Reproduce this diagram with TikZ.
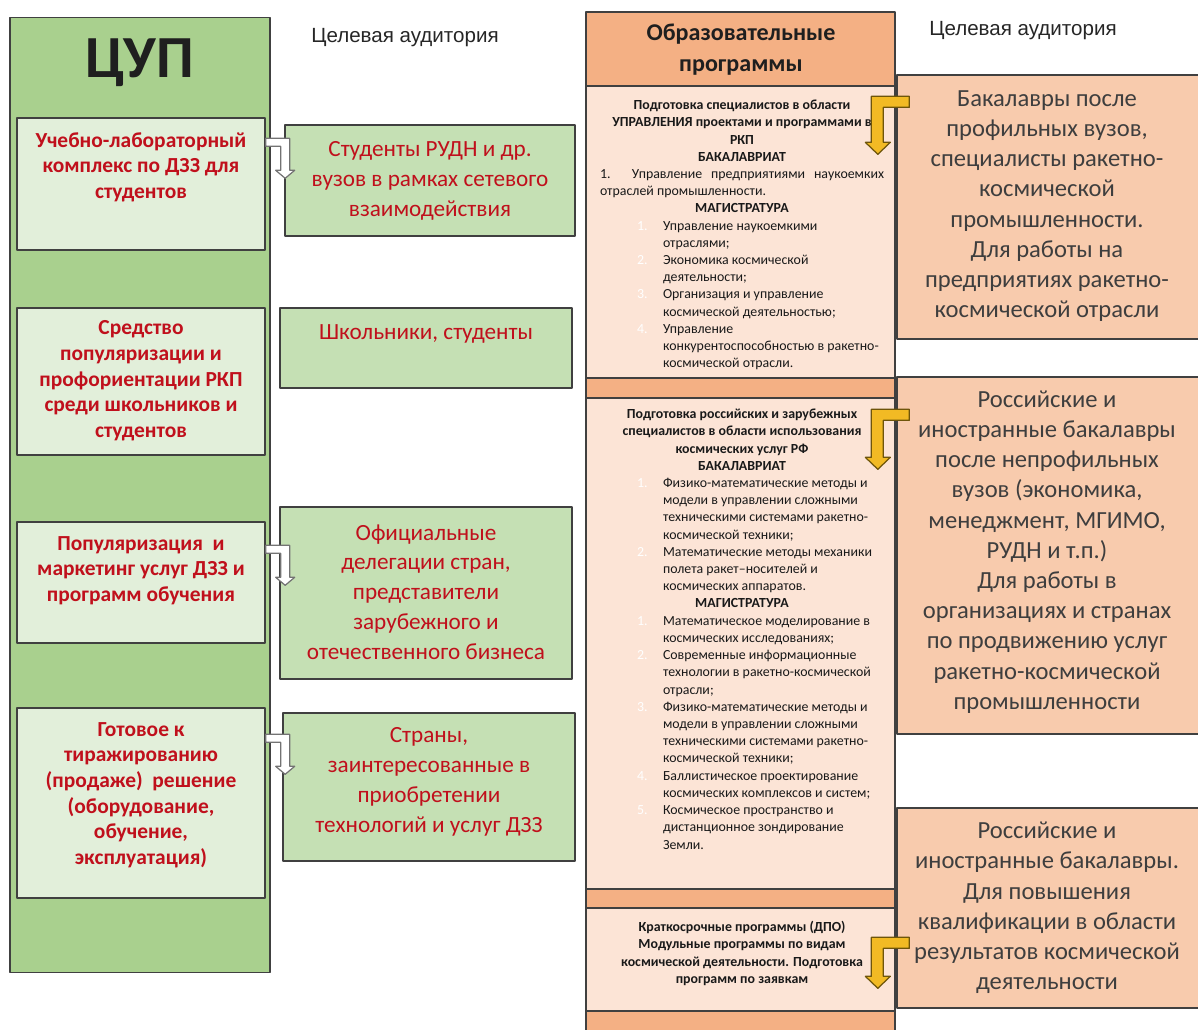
\documentclass[tikz,border=0pt]{standalone}
\usepackage{fontspec}
\setmainfont{Carlito}
\newfontfamily\arialfont{Liberation Sans}
\usetikzlibrary{calc}

% one pixel of the page
\newdimen\pxu \pxu=0.569055pt

\definecolor{cupgreen}{RGB}{169,208,142}
\definecolor{palegreen}{RGB}{226,239,218}
\definecolor{midgreen}{RGB}{197,224,180}
\definecolor{redtext}{RGB}{192,16,28}
\definecolor{orangehead}{RGB}{244,176,132}
\definecolor{peach}{RGB}{252,228,214}
\definecolor{salmon}{RGB}{248,203,173}
\definecolor{edgegray}{RGB}{64,64,64}
\definecolor{darktext}{RGB}{62,62,62}
\definecolor{goldfill}{RGB}{242,186,36}
\definecolor{goldedge}{RGB}{110,85,10}

% program texts
\newcommand{\phead}[1]{\par{\centering\bfseries #1\par}}
\newcommand{\pitem}[2]{\par{\raggedright\leftskip=63\pxu\noindent\llap{\makebox[26\pxu][l]{\color{white}#1}}#2\par}}

% bent block arrows
\newcommand{\bentwhite}[1]{%
  \draw[whitearrow] #1 -- ++(24,0) -- ++(0,32) -- ++(5,0) -- ++(-9.5,8) -- ++(-9.5,-8) -- ++(5,0) -- ++(0,-24) -- ++(-15,0) -- cycle;}
\newcommand{\bentgold}[2]{%
  \draw[goldarrow] #1 -- ++(-38,0) -- ++(0,#2) -- ++(-6,0) -- ++(12.5,12) -- ++(12.5,-12) -- ++(-7,0) -- ++(0,{11-#2}) -- ++(26,0) -- cycle;}

\begin{document}
\begin{tikzpicture}[x=0.02cm, y=-0.02cm, line join=round,
  frame/.style={draw=edgegray, line width=0.8pt, inner sep=0pt},
  cupbox/.style={frame, fill=cupgreen, minimum width=260\pxu, minimum height=955\pxu},
  labbox/.style={frame, fill=palegreen, minimum width=248\pxu},
  audbox/.style={frame, fill=midgreen},
  progcell/.style={frame, minimum width=309\pxu},
  targbox/.style={frame, fill=salmon, minimum width=308\pxu},
  labtext/.style={text=redtext, align=center, inner sep=0pt, font=\bfseries\fontsize{12.2}{14.6}\selectfont},
  audtext/.style={text=redtext, align=center, inner sep=0pt, font=\fontsize{13.2}{17}\selectfont},
  targtext/.style={text=darktext, align=center, inner sep=0pt, font=\fontsize{14}{17.2}\selectfont},
  progtext/.style={text=black!90, text width=284\pxu, align=justify, anchor=north, inner sep=0pt,
    font=\fontsize{7.9}{9.8}\selectfont, execute at begin node=\setlength{\parskip}{0pt}},
  colhead/.style={text=black!85, inner sep=0pt, font=\arialfont\fontsize{11.7}{14}\selectfont},
  whitearrow/.style={fill=white, draw=black!55, line width=0.7pt},
  goldarrow/.style={fill=goldfill, draw=goldedge, line width=0.7pt}]
\useasboundingbox (0,0) rectangle (1198,1030);
\fill[white] (0,0) rectangle (1198,1030);

% Left column: ЦУП
\node[cupbox] (cup) at (140,495) {};
\node[text=black!88, inner sep=0pt, font=\bfseries\fontsize{34}{40}\selectfont] (cuptxt) at (140,63) {ЦУП};
\node[labbox, minimum height=132\pxu] (b1) at (141,184) {};
\node[labbox, minimum height=147\pxu] (b2) at (141,381.5) {};
\node[labbox, minimum height=121\pxu] (b3) at (141,582.5) {};
\node[labbox, minimum height=190\pxu] (b4) at (141,803) {};
\node[labtext] (b1txt) at (141,167) {Учебно-лабораторный\\комплекс по ДЗЗ для\\студентов};
\node[labtext] (b2txt) at (141,381) {Средство\\популяризации и\\профориентации РКП\\среди школьников и\\студентов};
\node[labtext] (b3txt) at (141,570.5) {Популяризация~ и\\маркетинг услуг ДЗЗ и\\программ обучения};
\node[labtext] (b4txt) at (141,795) {Готовое к\\тиражированию\\(продаже)~ решение\\(оборудование,\\обучение,\\эксплуатация)};

% Target audience of ЦУП
\node[colhead] (aud1) at (405,38) {Целевая аудитория};
\node[audbox, minimum width=290\pxu, minimum height=111\pxu] (t1) at (430,180.5) {};
\node[audbox, minimum width=292\pxu, minimum height=80\pxu] (t2) at (426,348) {};
\node[audbox, minimum width=292\pxu, minimum height=172\pxu] (t3) at (426,593) {};
\node[audbox, minimum width=292\pxu, minimum height=148\pxu] (t4) at (429,787) {};
\node[audtext] (t1txt) at (430,181) {Студенты РУДН и др.\\вузов в рамках сетевого\\взаимодействия};
\node[audtext] (t2txt) at (426,334) {Школьники, студенты};
\node[audtext] (t3txt) at (426,592) {Официальные\\делегации стран,\\представители\\зарубежного и\\отечественного бизнеса};
\node[audtext] (t4txt) at (429,782) {Страны,\\заинтересованные в\\приобретении\\технологий и услуг ДЗЗ};

\bentwhite{($(b1.north east)+(0,21)$)}
\bentwhite{($(b3.north east)+(0,24)$)}
\bentwhite{($(b4.north east)+(0,27)$)}

% Educational programs column
\node[progcell, fill=orangehead, minimum height=74\pxu] (phead) at (740.5,49) {};
\node[progcell, fill=peach, minimum height=292\pxu] (p1) at (740.5,232) {};
\node[progcell, fill=orangehead, minimum height=20\pxu] (band1) at (740.5,388) {};
\node[progcell, fill=peach, minimum height=491\pxu] (p2) at (740.5,643.5) {};
\node[progcell, fill=orangehead, minimum height=19\pxu] (band2) at (740.5,898.5) {};
\node[progcell, fill=peach, minimum height=103\pxu] (p3) at (740.5,959.5) {};
\node[progcell, fill=orangehead, minimum height=30\pxu] (band3) at (740.5,1026) {};
\node[text=black!88, align=center, inner sep=0pt, font=\bfseries\fontsize{13.7}{17.6}\selectfont] (pheadtxt) at (741,50) {Образовательные\\программы};

\node[progtext] (p1txt) at (742,92) {%
\phead{Подготовка специалистов в области\\УПРАВЛЕНИЯ проектами и программами в\\РКП\\БАКАЛАВРИАТ}
{\noindent 1. Управление предприятиями наукоемких\linebreak отраслей промышленности.\par}
\phead{МАГИСТРАТУРА}
\pitem{1.}{Управление наукоемкими\\отраслями;}
\pitem{2.}{Экономика космической\\деятельности;}
\pitem{3.}{Организация и управление\\космической деятельностью;}
\pitem{4.}{Управление\\конкурентоспособностью в ракетно-\\космической отрасли.}};

\node[progtext] (p2txt) at (742,401) {%
\phead{Подготовка российских и зарубежных\\специалистов в области использования\\космических услуг РФ\\БАКАЛАВРИАТ}
\pitem{1.}{Физико-математические методы и\\модели в управлении сложными\\техническими системами ракетно-\\космической техники;}
\pitem{2.}{Математические методы механики\\полета ракет--носителей и\\космических аппаратов.}
\phead{МАГИСТРАТУРА}
\pitem{1.}{Математическое моделирование в\\космических исследованиях;}
\pitem{2.}{Современные информационные\\технологии в ракетно-космической\\отрасли;}
\pitem{3.}{Физико-математические методы и\\модели в управлении сложными\\техническими системами ракетно-\\космической техники;}
\pitem{4.}{Баллистическое проектирование\\космических комплексов и систем;}
\pitem{5.}{Космическое пространство и\\дистанционное зондирование\\Земли.}};

\node[progtext] (p3txt) at (742,914) {%
\phead{Краткосрочные программы (ДПО)\\Модульные программы по видам\\космической деятельности. Подготовка\\программ по заявкам}};

% Target audience of the programs
\node[colhead] (aud2) at (1023,31) {Целевая аудитория};
\node[targbox, minimum height=264\pxu] (r1) at (1051,207) {};
\node[targbox, minimum height=357\pxu] (r2) at (1051,555.5) {};
\node[targbox, minimum height=200\pxu] (r3) at (1051,908) {};
\node[targtext] (r1txt) at (1047,206) {Бакалавры после\\профильных вузов,\\специалисты ракетно-\\космической\\промышленности.\\Для работы на\\предприятиях ракетно-\\космической отрасли};
\node[targtext] (r2txt) at (1047,552) {Российские и\\иностранные бакалавры\\после непрофильных\\вузов (экономика,\\менеджмент, МГИМО,\\РУДН и т.п.)\\Для работы в\\организациях и странах\\по продвижению услуг\\ракетно-космической\\промышленности};
\node[targtext] (r3txt) at (1047,908) {Российские и\\иностранные бакалавры.\\Для повышения\\квалификации в области\\результатов космической\\деятельности};

\bentgold{($(r1.north west)+(13,22)$)}{46}
\bentgold{($(r2.north west)+(13,33)$)}{48}
\bentgold{($(r3.north west)+(13,130)$)}{39}
\end{tikzpicture}
\end{document}
